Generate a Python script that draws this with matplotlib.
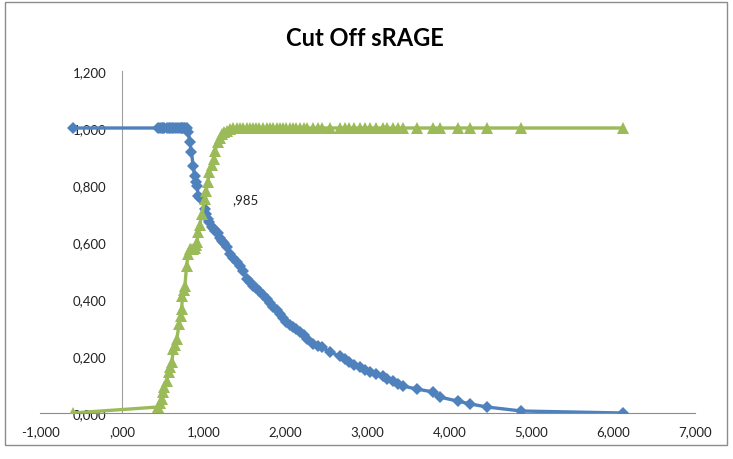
import matplotlib
matplotlib.use("Agg")
import matplotlib.pyplot as plt
from matplotlib.patches import Rectangle

# cut off values (shared by both series)
cutoff = [-0.60, 0.44, 0.47, 0.49, 0.50, 0.52, 0.55, 0.57, 0.59, 0.61, 0.63, 0.65, 0.67,
          0.70, 0.72, 0.73, 0.74, 0.76, 0.77, 0.79, 0.81, 0.83, 0.85, 0.87, 0.89, 0.90,
          0.92, 0.93, 0.95, 0.98, 1.01, 1.03, 1.05, 1.07, 1.10, 1.12, 1.14, 1.17, 1.20,
          1.22, 1.25, 1.28, 1.32, 1.36, 1.40, 1.44, 1.48, 1.53, 1.57, 1.60, 1.64, 1.68,
          1.72, 1.77, 1.81, 1.84, 1.89, 1.93, 1.97, 2.01, 2.05, 2.09, 2.13, 2.17, 2.22,
          2.26, 2.33, 2.39, 2.44, 2.54, 2.66, 2.72, 2.78, 2.84, 2.91, 2.97, 3.03, 3.10,
          3.19, 3.24, 3.31, 3.37, 3.43, 3.60, 3.80, 3.88, 4.10, 4.25, 4.46, 4.88, 6.12]

sensitivity = [1.000, 1.000, 1.000, 1.000, 1.000, 1.000, 1.000, 1.000, 1.000, 1.000, 1.000,
               1.000, 1.000, 1.000, 1.000, 1.000, 1.000, 1.000, 1.000, 1.000, 0.986, 0.950,
               0.916, 0.867, 0.832, 0.810, 0.796, 0.760, 0.755, 0.750, 0.716, 0.700, 0.680,
               0.670, 0.653, 0.645, 0.640, 0.632, 0.615, 0.604, 0.595, 0.582, 0.558, 0.545,
               0.530, 0.515, 0.498, 0.470, 0.458, 0.446, 0.437, 0.428, 0.415, 0.400, 0.385,
               0.372, 0.360, 0.347, 0.333, 0.319, 0.310, 0.302, 0.293, 0.284, 0.272, 0.260,
               0.242, 0.236, 0.232, 0.214, 0.200, 0.190, 0.179, 0.170, 0.161, 0.152, 0.144,
               0.137, 0.130, 0.121, 0.112, 0.103, 0.095, 0.084, 0.074, 0.056, 0.042, 0.032,
               0.021, 0.007, 0.000]

specificity = [0.000, 0.021, 0.035, 0.049, 0.074, 0.090, 0.112, 0.144, 0.160, 0.179, 0.225,
               0.240, 0.260, 0.312, 0.340, 0.365, 0.410, 0.430, 0.446, 0.516, 0.558, 0.575,
               0.575, 0.575, 0.578, 0.590, 0.600, 0.635, 0.660, 0.700, 0.750, 0.780, 0.810,
               0.846, 0.870, 0.890, 0.920, 0.950, 0.965, 0.980, 0.985, 0.990, 0.995, 1.000,
               1.000, 1.000, 1.000, 1.000, 1.000, 1.000, 1.000, 1.000, 1.000, 1.000, 1.000,
               1.000, 1.000, 1.000, 1.000, 1.000, 1.000, 1.000, 1.000, 1.000, 1.000, 1.000,
               1.000, 1.000, 1.000, 1.000, 1.000, 1.000, 1.000, 1.000, 1.000, 1.000, 1.000,
               1.000, 1.000, 1.000, 1.000, 1.000, 1.000, 1.000, 1.000, 1.000, 1.000, 1.000,
               1.000, 1.000, 1.000]

x_ticks = [-1, 0, 1, 2, 3, 4, 5, 6, 7]
x_labels = ["-1,000", ",000", "1,000", "2,000", "3,000", "4,000", "5,000", "6,000", "7,000"]
y_ticks = [0.0, 0.2, 0.4, 0.6, 0.8, 1.0, 1.2]
y_labels = ["0,000", "0,200", "0,400", "0,600", "0,800", "1,000", "1,200"]

label_text = ",985"
label_at = (1.01, 0.75)

plt.rcParams['font.family'] = ['Lato', 'DejaVu Sans']

fig = plt.figure(figsize=(7.33, 4.6), dpi=100)
ax = fig.add_axes([40 / 733, 1 - 414 / 460, 655 / 733, 342 / 460])

ax.plot(cutoff, sensitivity, color='#4F81BD', lw=2.4, marker='D', ms=6.5,
        markeredgewidth=0, zorder=3)
ax.plot(cutoff, specificity, color='#9BBB59', lw=2.4, marker='^', ms=8.5,
        markeredgewidth=0, zorder=4)

ax.annotate(label_text, xy=label_at, xytext=(20, 0), textcoords='offset points',
            fontsize=9.5, color='#222222', va='center', ha='left')

ax.set_xlim(-1, 7)
ax.set_ylim(0, 1.2)
ax.set_xticks(x_ticks)
ax.set_xticklabels(x_labels)
ax.set_yticks(y_ticks)
ax.set_yticklabels(y_labels)

for side in ['top', 'right']:
    ax.spines[side].set_visible(False)
ax.spines['left'].set_position(('data', 0))
ax.spines['left'].set_color('#A0A0A0')
ax.spines['bottom'].set_color('#8C8C8C')
ax.spines['left'].set_zorder(1)
ax.tick_params(axis='both', length=0, labelsize=9.5, colors='#222222')
ax.tick_params(axis='y', pad=11)
ax.tick_params(axis='x', pad=9)

fig.text(365 / 733, 1 - 38 / 460, "Cut Off sRAGE", ha='center', va='center',
         fontsize=17, fontweight='bold', color='black')

fig.patches.append(Rectangle((5 / 733, 1 - 446 / 460), 722 / 733, 443 / 460,
                             transform=fig.transFigure, fill=False,
                             edgecolor='#8C8C8C', lw=1))

fig.savefig("out.png", dpi=100)
